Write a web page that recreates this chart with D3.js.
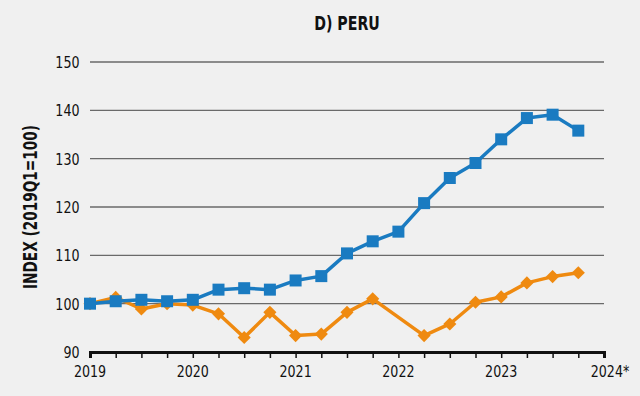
<!DOCTYPE html>
<html><head><meta charset="utf-8">
<script src="https://cdn.jsdelivr.net/npm/d3@7"></script>
<style>
html,body{margin:0;padding:0;background:#f0f0f0;}
svg{display:block;}
text{font-family:"DejaVu Sans Condensed","Liberation Sans Narrow","Roboto",sans-serif;fill:#111;}
</style></head>
<body>
<script>
const title = "D) PERU";
const yLabel = "INDEX (2019Q1=100)";
const yearTicks = [2019, 2020, 2021, 2022, 2023, 2024];
const yearLabels = ["2019", "2020", "2021", "2022", "2023", "2024*"];
const yTicks = [90, 100, 110, 120, 130, 140, 150];
const blueSeries = [100, 100.5, 100.8, 100.5, 100.8, 102.9, 103.2, 102.9, 104.8, 105.7,
                    110.4, 112.9, 114.9, 120.8, 126.0, 129.1, 134.0, 138.4, 139.1, 135.8];
const orangeSeries = [100, 101.3, 98.9, 100.0, 99.7, 97.9, 93.0, 98.2, 93.4, 93.7,
                      98.2, 101.0, null, 93.4, 95.8, 100.3, 101.4, 104.3, 105.6, 106.4];

const W = 640, H = 396;
const svg = d3.select("body").append("svg").attr("width", W).attr("height", H);
const x = d3.scaleLinear().domain([2019, 2024]).range([90, 604]);
const y = d3.scaleLinear().domain([90, 150]).range([352, 62]);
const qx = q => x(2019 + q / 4);

// gridlines
svg.append("g").selectAll("line").data(yTicks.filter(t => t > 90)).join("line")
  .attr("x1", 90).attr("x2", 604).attr("y1", d => y(d)).attr("y2", d => y(d))
  .attr("stroke", "#6a6a6a").attr("stroke-width", 1.3);

// y tick labels
svg.append("g").selectAll("text").data(yTicks).join("text")
  .attr("transform", d => `translate(79.5,${y(d) + 6}) scale(0.88,1)`)
  .attr("text-anchor", "end").attr("font-size", 16).text(d => d);

// x axis
const xAxis = d3.axisBottom(x).tickValues(d3.range(0, 21).map(q => 2019 + q / 4))
  .tickSize(6).tickFormat("");
const gx = svg.append("g").attr("transform", `translate(0,${y(90)})`).call(xAxis);
gx.select(".domain").attr("stroke", "#111").attr("stroke-width", 3);
gx.selectAll(".tick line").attr("stroke", "#111").attr("stroke-width", 1.5);
svg.append("g").selectAll("text").data(yearTicks).join("text")
  .attr("transform", (d, i) => `translate(${x(d) + (i === 5 ? 6 : 0)},377) scale(0.88,1)`)
  .attr("text-anchor", "middle").attr("font-size", 16).text((d, i) => yearLabels[i]);

// title
svg.append("text").attr("transform", "translate(347,30) scale(0.83,1)")
  .attr("text-anchor", "middle").attr("font-size", 19).attr("font-weight", "bold").text(title);

// y label
svg.append("text").attr("transform", "translate(36.5,207) rotate(-90) scale(0.78,1)")
  .attr("text-anchor", "middle").attr("font-size", 19.5).attr("font-weight", "bold").text(yLabel);

const line = d3.line().x(d => qx(d.q)).y(d => y(d.v));
const orangeData = orangeSeries.map((v, q) => ({q, v})).filter(d => d.v !== null);
const blueData = blueSeries.map((v, q) => ({q, v}));

const orange = "#ef8a10", blue = "#1a7bc1";
svg.append("path").datum(orangeData).attr("d", line).attr("fill", "none")
  .attr("stroke", orange).attr("stroke-width", 3.5).attr("stroke-linejoin", "round");
svg.append("g").selectAll("path").data(orangeData).join("path")
  .attr("transform", d => `translate(${qx(d.q)},${y(d.v)})`)
  .attr("d", d3.symbol(d3.symbolDiamond2, 110)).attr("fill", orange);

svg.append("path").datum(blueData).attr("d", line).attr("fill", "none")
  .attr("stroke", blue).attr("stroke-width", 3.5).attr("stroke-linejoin", "round");
svg.append("g").selectAll("rect").data(blueData).join("rect")
  .attr("x", d => qx(d.q) - 6).attr("y", d => y(d.v) - 6)
  .attr("width", 12).attr("height", 12).attr("fill", blue);
</script>
</body></html>
